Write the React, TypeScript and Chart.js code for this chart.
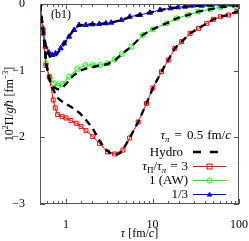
import React, { useEffect, useRef } from 'react';
import { Chart, registerables } from 'chart.js';
Chart.register(...registerables);

// ---- data (tau in fm/c, value = 10^2 Pi / g hbar in fm^-3) ----
const redTau = [0.5, 0.545, 0.585, 0.64, 0.71, 0.75, 0.80, 0.90, 1.0, 1.14, 1.31, 1.49, 1.70, 2.04, 2.44, 3.02, 3.64, 4.55, 5.44, 6.83, 8.52, 10.1, 12.7, 15.2, 18.1, 21.7, 27.2, 34, 42.4, 50.6, 60.8, 75.5, 94.5];
const redPi = [0, -0.44, -0.92, -1.09, -1.44, -1.56, -1.66, -1.69, -1.71, -1.75, -1.79, -1.84, -1.90, -1.99, -2.09, -2.22, -2.25, -2.19, -2.01, -1.77, -1.49, -1.26, -1.015, -0.84, -0.665, -0.565, -0.44, -0.365, -0.29, -0.23, -0.19, -0.165, -0.115];

const greenTau = [0.5, 0.542, 0.585, 0.648, 0.725, 0.807, 0.906, 1.083, 1.353, 1.677, 2.022, 2.485, 3.02, 3.645, 4.40, 5.70, 7.71, 10.08, 14.55, 19.0, 25.7, 33.6, 46.4, 60.6, 90.6];
const greenPi = [0, -0.42, -0.89, -1.11, -1.19, -1.23, -1.20, -1.09, -0.975, -0.915, -0.915, -0.915, -0.89, -0.83, -0.75, -0.64, -0.465, -0.38, -0.29, -0.215, -0.165, -0.115, -0.08, -0.05, -0.03];

const blueTau = [0.5, 0.538, 0.579, 0.634, 0.693, 0.757, 0.865, 0.948, 1.083, 1.239, 1.416, 1.69, 2.02, 2.42, 2.89, 3.33, 4.36, 5.45, 7.13, 9.32, 12.2, 16.1, 19.7, 23.8, 28.5, 37.1, 48.5, 63.4, 79.1, 98.5];
const bluePi = [0, -0.36, -0.64, -0.727, -0.765, -0.74, -0.665, -0.59, -0.49, -0.39, -0.315, -0.315, -0.305, -0.30, -0.29, -0.28, -0.24, -0.19, -0.165, -0.13, -0.09, -0.065, -0.05, -0.04, -0.025, -0.025, -0.015, -0.015, -0.015, -0.005];

const hydroRedTau = [0.5, 0.55, 0.59, 0.64, 0.675, 0.72, 0.79, 0.87, 0.956, 1.1, 1.25, 1.45, 1.63, 2.02, 2.44, 2.8, 3.19, 3.74, 4.3, 4.52, 5.44, 6.83, 8.52, 10.1, 12.7, 15.2, 18.1, 21.7, 27.2, 34, 42.4, 50.6, 60.8, 75.5, 94.5, 100];
const hydroRedPi = [0, -0.47, -0.9, -1.12, -1.215, -1.3, -1.40, -1.45, -1.485, -1.53, -1.575, -1.64, -1.71, -1.86, -2.05, -2.17, -2.23, -2.27, -2.23, -2.19, -2.01, -1.77, -1.49, -1.26, -1.015, -0.84, -0.665, -0.565, -0.44, -0.365, -0.29, -0.23, -0.19, -0.165, -0.115, -0.105];

const hydroGreenTau = [0.5, 0.55, 0.59, 0.65, 0.72, 0.8, 0.88, 1.0, 1.1, 1.24, 1.45, 1.7, 1.92, 2.3, 2.76, 3.3, 3.8, 4.4, 5.7, 7.7, 10, 14.5, 19, 25.7, 33.6, 46, 60, 90, 100];
const hydroGreenPi = [0, -0.47, -0.9, -1.15, -1.25, -1.28, -1.27, -1.20, -1.13, -1.065, -1.0, -0.97, -0.955, -0.93, -0.915, -0.88, -0.83, -0.75, -0.64, -0.465, -0.38, -0.29, -0.215, -0.165, -0.115, -0.08, -0.05, -0.03, -0.027];

const hydroBlueTau = [0.5, 0.55, 0.6, 0.65, 0.7, 0.76, 0.85, 0.95, 1.08, 1.24, 1.42, 1.7, 2.4, 3.3, 4.4, 5.5, 7.1, 9.3, 12.2, 16, 24, 37, 60, 100];
const hydroBluePi = [0, -0.45, -0.70, -0.79, -0.80, -0.77, -0.69, -0.6, -0.49, -0.38, -0.32, -0.31, -0.30, -0.28, -0.24, -0.195, -0.165, -0.13, -0.09, -0.065, -0.04, -0.025, -0.015, -0.008];

const xTickLabels = [1, 10, 100];
const yTickValues = [0, -1, -2, -3];

const FONT = '"Liberation Serif", "DejaVu Serif", serif';
const RED = '#ff0000';
const GREEN = '#00ff00';
const BLUE = '#0000ff';

type Seg = { t: string; sub?: boolean; sup?: boolean; it?: boolean; gap?: number };

function segFont(s: Seg, size: number) {
  const sz = s.sub || s.sup ? Math.round(size * 0.7) : size;
  return `${s.it ? 'italic ' : ''}${sz}px ${FONT}`;
}
function segWidth(ctx: CanvasRenderingContext2D, s: Seg, size: number) {
  if (s.gap !== undefined) return s.gap;
  ctx.font = segFont(s, size);
  return ctx.measureText(s.t).width;
}
function drawRich(ctx: CanvasRenderingContext2D, segs: Seg[], x: number, y: number, align: 'left' | 'right' | 'center', size: number) {
  let w = 0;
  for (const s of segs) w += segWidth(ctx, s, size);
  let cx = align === 'left' ? x : align === 'right' ? x - w : x - w / 2;
  ctx.textBaseline = 'alphabetic';
  ctx.textAlign = 'left';
  for (const s of segs) {
    if (s.gap === undefined) {
      ctx.font = segFont(s, size);
      const dy = s.sub ? size * 0.25 : s.sup ? -size * 0.38 : 0;
      ctx.fillText(s.t, cx, y + dy);
    }
    cx += segWidth(ctx, s, size);
  }
}

const pts = (t: number[], v: number[]) => t.map((x, i) => ({ x, y: v[i] }));

const decorPlugin = {
  id: 'decor',
  afterDraw(chart: any) {
    const ctx: CanvasRenderingContext2D = chart.ctx;
    const ca = chart.chartArea;
    const xs = chart.scales.x;
    const ys = chart.scales.y;
    ctx.save();
    ctx.strokeStyle = '#555';
    ctx.lineWidth = 1;
    ctx.strokeRect(Math.round(ca.left) + 0.5, Math.round(ca.top) + 0.5, Math.round(ca.right - ca.left) - 1, Math.round(ca.bottom - ca.top) - 1);
    ctx.beginPath();
    for (const tk of xs.ticks) {
      const v = tk.value;
      if (v < 0.5 || v > 100) continue;
      const lg = Math.log10(v);
      const major = Math.abs(lg - Math.round(lg)) < 1e-6;
      const len = major ? 5 : 3;
      const px = Math.round(xs.getPixelForValue(v)) + 0.5;
      ctx.moveTo(px, ca.bottom);
      ctx.lineTo(px, ca.bottom - len);
      ctx.moveTo(px, ca.top);
      ctx.lineTo(px, ca.top + len);
    }
    for (const v of yTickValues) {
      const py = Math.round(ys.getPixelForValue(v)) + 0.5;
      ctx.moveTo(ca.left, py);
      ctx.lineTo(ca.left + 5, py);
      ctx.moveTo(ca.right, py);
      ctx.lineTo(ca.right - 5, py);
    }
    ctx.stroke();

    ctx.fillStyle = '#000';
    const fs = 12;
    const lf = 13;
    drawRich(ctx, [{ t: '(b1)' }], ca.left + 11, ca.top + 14, 'left', fs);
    drawRich(ctx, [{ t: 'τ', it: true }, { t: ' [fm/' }, { t: 'c', it: true }, { t: ']' }], (ca.left + ca.right) / 2, 237, 'center', fs);
    ctx.save();
    ctx.translate(13, (ca.top + ca.bottom) / 2);
    ctx.rotate(-Math.PI / 2);
    drawRich(ctx, [{ t: '10' }, { t: '2', sup: true }, { t: 'Π/' }, { t: 'g', it: true }, { t: 'ℏ', it: true }, { t: ' [fm' }, { t: '−3', sup: true }, { t: ']' }], 0, 0, 'center', fs);
    ctx.restore();

    // legend
    drawRich(ctx, [{ t: 'τ', it: true }, { t: 'π', it: true, sub: true }, { t: '', gap: 5 }, { t: '=' }, { t: '', gap: 5 }, { t: '0.5' }, { t: '', gap: 4 }, { t: 'fm/' }, { t: 'c', it: true }], 231, 139, 'right', lf);
    drawRich(ctx, [{ t: 'Hydro' }], 183, 156, 'right', lf);
    drawRich(ctx, [{ t: 'τ', it: true }, { t: 'Π', sub: true }, { t: '/' }, { t: 'τ', it: true }, { t: 'π', it: true, sub: true }, { t: '', gap: 4 }, { t: '=' }, { t: '', gap: 4 }, { t: '3' }], 188, 170, 'right', lf);
    drawRich(ctx, [{ t: '1 (AW)' }], 188, 184, 'right', lf);
    drawRich(ctx, [{ t: '1/3' }], 188, 198, 'right', lf);

    ctx.strokeStyle = '#000';
    ctx.lineWidth = 2.4;
    ctx.setLineDash([8, 9]);
    ctx.beginPath();
    ctx.moveTo(193, 152);
    ctx.lineTo(218, 152);
    ctx.stroke();
    ctx.setLineDash([]);
    ctx.lineWidth = 1;
    const lx0 = 193, lx1 = 226, mx = 209.5;
    ctx.strokeStyle = RED;
    ctx.beginPath(); ctx.moveTo(lx0, 166.5); ctx.lineTo(lx1, 166.5); ctx.stroke();
    ctx.strokeRect(mx - 2.5, 166.5 - 2.5, 5, 5);
    ctx.strokeStyle = GREEN;
    ctx.beginPath(); ctx.moveTo(lx0, 180.5); ctx.lineTo(lx1, 180.5); ctx.stroke();
    ctx.beginPath(); ctx.arc(mx, 180.5, 2.5, 0, Math.PI * 2); ctx.stroke();
    ctx.strokeStyle = BLUE;
    ctx.fillStyle = BLUE;
    ctx.beginPath(); ctx.moveTo(lx0, 194.5); ctx.lineTo(lx1, 194.5); ctx.stroke();
    ctx.beginPath(); ctx.moveTo(mx, 191.5); ctx.lineTo(mx + 3, 196.5); ctx.lineTo(mx - 3, 196.5); ctx.closePath(); ctx.fill();
    ctx.restore();
  },
};

export default function App() {
  const ref = useRef<HTMLCanvasElement | null>(null);
  useEffect(() => {
    if (!ref.current) return;
    const hydroStyle = {
      borderColor: '#000',
      borderWidth: 2.4,
      borderDash: [7, 5],
      pointRadius: 0,
      fill: false,
      order: 0,
    };
    const chart = new Chart(ref.current, {
      type: 'line',
      data: {
        datasets: [
          { label: 'Hydro', data: pts(hydroRedTau, hydroRedPi), ...hydroStyle },
          { label: 'Hydro1', data: pts(hydroGreenTau, hydroGreenPi), ...hydroStyle },
          { label: 'Hydro2', data: pts(hydroBlueTau, hydroBluePi), ...hydroStyle },
          {
            label: 'τΠ/τπ = 3', data: pts(redTau, redPi), borderColor: RED, borderWidth: 1,
            pointStyle: 'rect', pointRadius: 2.8, pointBorderWidth: 1, pointBorderColor: RED,
            pointBackgroundColor: 'rgba(0,0,0,0)', order: 1,
          },
          {
            label: '1 (AW)', data: pts(greenTau, greenPi), borderColor: GREEN, borderWidth: 1,
            pointStyle: 'circle', pointRadius: 2.5, pointBorderWidth: 1, pointBorderColor: GREEN,
            pointBackgroundColor: 'rgba(0,0,0,0)', order: 1,
          },
          {
            label: '1/3', data: pts(blueTau, bluePi), borderColor: BLUE, borderWidth: 1,
            pointStyle: 'triangle', pointRadius: 3, pointBorderWidth: 1, pointBorderColor: BLUE,
            pointBackgroundColor: BLUE, order: 1,
          },
        ],
      },
      options: {
        animation: false,
        responsive: false,
        devicePixelRatio: 1,
        layout: { padding: { top: 4, right: 10, left: 0, bottom: 0 }, autoPadding: false } as any,
        plugins: { legend: { display: false }, tooltip: { enabled: false } },
        elements: { line: { tension: 0 } },
        scales: {
          x: {
            type: 'logarithmic',
            min: 0.5,
            max: 100,
            grid: { display: false },
            border: { display: false },
            ticks: {
              autoSkip: false,
              maxRotation: 0,
              padding: 6,
              color: '#000',
              font: { family: FONT, size: 12 },
              callback: (v: any) => {
                const n = Number(v);
                return xTickLabels.find((t) => Math.abs(t - n) < 1e-9) !== undefined ? String(Math.round(n)) : '';
              },
            },
            afterFit: (s: any) => { s.height = 37; s.paddingLeft = 0; s.paddingRight = 0; s.paddingTop = 0; s.paddingBottom = 0; },
          },
          y: {
            type: 'linear',
            min: -3,
            max: 0,
            grid: { display: false },
            border: { display: false },
            ticks: {
              stepSize: 1,
              padding: 7,
              color: '#000',
              font: { family: FONT, size: 12 },
              callback: (v: any) => {
                const n = Math.round(Number(v));
                return n === 0 ? '0' : '−' + Math.abs(n);
              },
            },
            afterFit: (s: any) => { s.width = 40; s.paddingLeft = 0; s.paddingRight = 0; s.paddingTop = 0; s.paddingBottom = 0; },
          },
        },
      } as any,
      plugins: [decorPlugin],
    });
    return () => chart.destroy();
  }, []);
  return (
    <div style={{ position: 'fixed', left: 0, top: 0, width: 249, height: 241, background: '#fff' }}>
      <canvas ref={ref} width={249} height={241} />
    </div>
  );
}
